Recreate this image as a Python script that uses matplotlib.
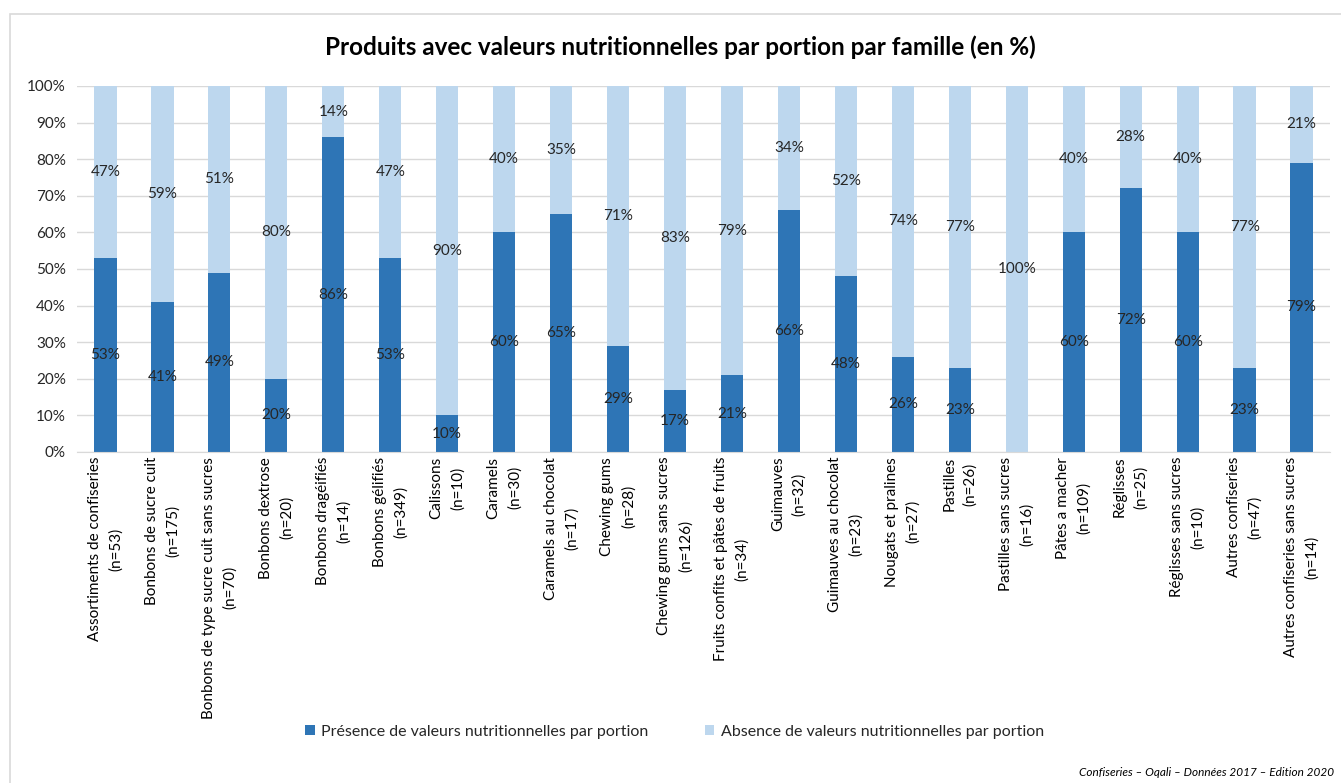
import numpy as np
import matplotlib
matplotlib.use("Agg")
import matplotlib.pyplot as plt
from matplotlib.patches import Rectangle
from matplotlib.ticker import PercentFormatter

plt.rcParams['font.family'] = ['Lato', 'DejaVu Sans']

# data
categories = [
    "Assortiments de confiseries\n(n=53)",
    "Bonbons de sucre cuit\n(n=175)",
    "Bonbons de type sucre cuit sans sucres\n(n=70)",
    "Bonbons dextrose\n(n=20)",
    "Bonbons dragéifiés\n(n=14)",
    "Bonbons gélifiés\n(n=349)",
    "Calissons\n(n=10)",
    "Caramels\n(n=30)",
    "Caramels au chocolat\n(n=17)",
    "Chewing gums\n(n=28)",
    "Chewing gums sans sucres\n(n=126)",
    "Fruits confits et pâtes de fruits\n(n=34)",
    "Guimauves\n(n=32)",
    "Guimauves au chocolat\n(n=23)",
    "Nougats et pralines\n(n=27)",
    "Pastilles\n(n=26)",
    "Pastilles sans sucres\n(n=16)",
    "Pâtes a macher\n(n=109)",
    "Réglisses\n(n=25)",
    "Réglisses sans sucres\n(n=10)",
    "Autres confiseries\n(n=47)",
    "Autres confiseries sans sucres\n(n=14)",
]
presence = [53, 41, 49, 20, 86, 53, 10, 60, 65, 29, 17, 21, 66, 48, 26, 23, 0, 60, 72, 60, 23, 79]
absence = [47, 59, 51, 80, 14, 47, 90, 40, 35, 71, 83, 79, 34, 52, 74, 77, 100, 40, 28, 40, 77, 21]
series_names = ["Présence de valeurs nutritionnelles par portion",
                "Absence de valeurs nutritionnelles par portion"]

dark_blue = "#2E75B6"
light_blue = "#BDD7EE"
text_col = "#262626"

fig = plt.figure(figsize=(13.41, 7.83), dpi=100)

# light grey frame around the chart (cut at right/bottom like the screenshot)
fig.patches.append(Rectangle((10 / 1341, -0.05), 1.2, 1 - 14 / 783 + 0.05,
                             transform=fig.transFigure, fill=False,
                             edgecolor="#d9d9d9", linewidth=1.2))

ax = fig.add_axes([77 / 1341, 1 - 452 / 783, (1330 - 77) / 1341, (452 - 86) / 783])

x = np.arange(len(categories))
pres = np.array(presence)
absn = np.array(absence)
b1 = ax.bar(x, pres, width=0.39, color=dark_blue, label=series_names[0], zorder=2)
b2 = ax.bar(x, absn, width=0.39, bottom=pres, color=light_blue, label=series_names[1], zorder=2)

# data labels in the middle of each segment
for i in range(len(x)):
    if pres[i] > 0:
        ax.text(x[i], pres[i] / 2, f"{pres[i]}%", ha="center", va="center",
                fontsize=11, color=text_col, zorder=3)
    if absn[i] > 0:
        ax.text(x[i], pres[i] + absn[i] / 2, f"{absn[i]}%", ha="center", va="center",
                fontsize=11, color=text_col, zorder=3)

ax.set_xlim(-0.5, len(categories) - 0.5)
ax.set_ylim(0, 100)
ax.set_yticks(np.arange(0, 101, 10))
ax.yaxis.set_major_formatter(PercentFormatter(decimals=0))
ax.grid(axis="y", color="#d9d9d9", linewidth=1, zorder=0)
ax.set_axisbelow(True)
for s in ["top", "right", "left"]:
    ax.spines[s].set_visible(False)
ax.spines["bottom"].set_color("#d9d9d9")
ax.tick_params(axis="both", length=0, labelsize=11, colors=text_col)
ax.tick_params(axis="y", pad=8)

ax.set_xticks(x)
ax.set_xticklabels(categories, rotation=90, ha="center", va="top",
                   multialignment="center", fontsize=11, color="black",
                   linespacing=1.6)

fig.text(0.507, 1 - 47 / 783, "Produits avec valeurs nutritionnelles par portion par famille (en %)",
         ha="center", va="center", fontsize=17.5, fontweight="bold", color="black")

fig.legend(handles=[b1, b2], labels=series_names, loc="center",
           bbox_to_anchor=(0.503, 1 - 732 / 783), ncol=2, frameon=False,
           fontsize=11.5, handlelength=0.6, handleheight=0.6, handletextpad=0.4,
           columnspacing=3.5, labelcolor=text_col)

fig.text(0.995, 0.006, "Confiseries \u2013 Oqali \u2013 Données 2017 \u2013 Edition 2020",
         ha="right", va="bottom", fontsize=8.5, style="italic", color="black")

fig.savefig("out.png", dpi=100)
plt.close(fig)
